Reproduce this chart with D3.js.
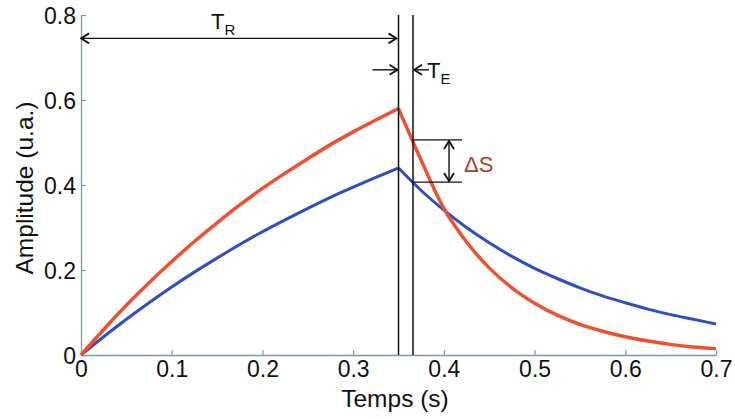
<!DOCTYPE html>
<html>
<head>
<meta charset="utf-8">
<script src="https://cdn.jsdelivr.net/npm/d3@7"></script>
<style>
  html, body { margin: 0; padding: 0; background: #fff; }
  svg { display: block; font-family: "Liberation Sans", Arial, sans-serif; }
</style>
</head>
<body>
<svg id="chart" width="735" height="419"></svg>
<script>
// ---- Data ----
const riseTime = [0, 0.025, 0.05, 0.075, 0.1, 0.125, 0.15, 0.175, 0.2, 0.225, 0.25, 0.275, 0.3, 0.325, 0.35];
const redRise  = [0, 0.060, 0.117, 0.170, 0.220, 0.267, 0.311, 0.353, 0.392, 0.428, 0.462, 0.495, 0.525, 0.553, 0.580];
const blueRise = [0, 0.043, 0.084, 0.123, 0.160, 0.195, 0.228, 0.260, 0.290, 0.318, 0.345, 0.371, 0.395, 0.418, 0.440];

const decayTime = [0.35, 0.375, 0.4, 0.425, 0.45, 0.475, 0.5, 0.525, 0.55, 0.575, 0.6, 0.625, 0.65, 0.675, 0.7];
const redDecay  = [0.580, 0.458, 0.345, 0.266, 0.205, 0.158, 0.122, 0.094, 0.072, 0.056, 0.043, 0.033, 0.025, 0.019, 0.015];
const blueDecay = [0.440, 0.387, 0.341, 0.300, 0.264, 0.232, 0.204, 0.180, 0.158, 0.139, 0.123, 0.108, 0.095, 0.084, 0.073];

const xTicks = [0, 0.1, 0.2, 0.3, 0.4, 0.5, 0.6, 0.7];
const yTicks = [0, 0.2, 0.4, 0.6, 0.8];

const tR = 0.35;            // end of repetition time
const tE = 0.366;           // end of echo time
const deltaSTop = 0.506;    // red signal at tE
const deltaSBottom = 0.407; // blue signal at tE
const trArrowY = 0.745;
const teArrowY = 0.671;

// ---- Layout ----
const svg = d3.select("#chart");
const x = d3.scaleLinear().domain([0, 0.7]).range([81, 716]);
const y = d3.scaleLinear().domain([0, 0.8]).range([355, 15]);

const axisColor = "#6c9fb5";
const red = "#ef5032";
const blue = "#2f4fbf";
const tickFs = 23;
const titleFs = 24.5;

// defs: chevron arrowheads
const defs = svg.append("defs");
function marker(id, orient) {
  defs.append("marker")
    .attr("id", id).attr("viewBox", "0 0 10 12")
    .attr("refX", 9).attr("refY", 6)
    .attr("markerWidth", 10).attr("markerHeight", 12)
    .attr("markerUnits", "userSpaceOnUse")
    .attr("orient", orient)
    .append("path").attr("d", "M1,1 L9,6 L1,11")
    .attr("fill", "none").attr("stroke", "#111").attr("stroke-width", 1.8);
}
marker("arrEnd", "auto");
marker("arrStart", "auto-start-reverse");

// ---- Axes ----
const xAxis = d3.axisBottom(x).tickValues(xTicks)
  .tickFormat(d => d === 0 ? "0" : d3.format(".1f")(d))
  .tickSizeInner(-5).tickSizeOuter(0).tickPadding(6);
const yAxis = d3.axisLeft(y).tickValues(yTicks)
  .tickFormat(d => d === 0 ? "0" : d3.format(".1f")(d))
  .tickSizeInner(-5).tickSizeOuter(0).tickPadding(5);

const gx = svg.append("g").attr("transform", `translate(0,${y(0)})`).call(xAxis);
const gy = svg.append("g").attr("transform", `translate(${x(0)},0)`).call(yAxis);
[gx, gy].forEach(g => {
  g.select(".domain").attr("stroke", axisColor).attr("stroke-width", 1.3);
  g.selectAll(".tick line").attr("stroke", axisColor).attr("stroke-width", 1.2);
  g.selectAll(".tick text").attr("fill", "#111").attr("font-size", tickFs)
    .attr("font-family", "Liberation Sans, Arial, sans-serif");
});
gy.selectAll(".tick text").attr("dy", "0.36em");

// axis titles
svg.append("text").attr("x", 395).attr("y", 407).attr("text-anchor", "middle")
  .attr("font-size", titleFs).attr("fill", "#111").text("Temps (s)");
svg.append("text").attr("transform", "translate(33,188) rotate(-90)")
  .attr("text-anchor", "middle").attr("font-size", titleFs).attr("fill", "#111")
  .text("Amplitude (u.a.)");

// ---- Curves ----
const line = d3.line().x(d => x(d[0])).y(d => y(d[1])).curve(d3.curveMonotoneX);
function seg(times, vals) { return times.map((t, i) => [t, vals[i]]); }

[[blueRise, blueDecay, blue, 3], [redRise, redDecay, red, 3.5]].forEach(([r, dcy, c, w]) => {
  svg.append("path").attr("d", line(seg(riseTime, r)))
    .attr("fill", "none").attr("stroke", c).attr("stroke-width", w).attr("stroke-linejoin", "round");
  svg.append("path").attr("d", line(seg(decayTime, dcy)))
    .attr("fill", "none").attr("stroke", c).attr("stroke-width", w).attr("stroke-linejoin", "round");
});

// ---- Annotations ----
const ink = "#111";
[tR, tE].forEach(t => {
  svg.append("line").attr("x1", x(t)).attr("x2", x(t)).attr("y1", y(0.8)).attr("y2", y(0))
    .attr("stroke", ink).attr("stroke-width", 1.5);
});

// TR double arrow
svg.append("line")
  .attr("x1", x(0)).attr("x2", x(tR) - 2)
  .attr("y1", y(trArrowY)).attr("y2", y(trArrowY))
  .attr("stroke", ink).attr("stroke-width", 1.4)
  .attr("marker-start", "url(#arrStart)").attr("marker-end", "url(#arrEnd)");
const trLabel = svg.append("text").attr("x", 211).attr("y", 29).attr("font-size", 22).attr("fill", ink);
trLabel.append("tspan").text("T");
trLabel.append("tspan").attr("font-size", 15).attr("dy", 6).text("R");

// TE arrows pointing inward
svg.append("line").attr("x1", x(tR) - 26).attr("x2", x(tR) - 1)
  .attr("y1", y(teArrowY)).attr("y2", y(teArrowY))
  .attr("stroke", ink).attr("stroke-width", 1.4).attr("marker-end", "url(#arrEnd)");
svg.append("line").attr("x1", x(tE) + 16).attr("x2", x(tE) + 1)
  .attr("y1", y(teArrowY)).attr("y2", y(teArrowY))
  .attr("stroke", ink).attr("stroke-width", 1.4).attr("marker-end", "url(#arrEnd)");
const teLabel = svg.append("text").attr("x", 427).attr("y", 78).attr("font-size", 22).attr("fill", ink);
teLabel.append("tspan").text("T");
teLabel.append("tspan").attr("font-size", 15).attr("dy", 6).text("E");

// ΔS marker
[deltaSTop, deltaSBottom].forEach(v => {
  svg.append("line").attr("x1", x(tE)).attr("x2", x(tE) + 49)
    .attr("y1", y(v)).attr("y2", y(v)).attr("stroke", ink).attr("stroke-width", 1.3);
});
svg.append("line").attr("x1", x(tE) + 36).attr("x2", x(tE) + 36)
  .attr("y1", y(deltaSTop) + 1).attr("y2", y(deltaSBottom) - 1)
  .attr("stroke", ink).attr("stroke-width", 1.4)
  .attr("marker-start", "url(#arrStart)").attr("marker-end", "url(#arrEnd)");
svg.append("text").attr("x", 464).attr("y", 172).attr("font-size", 22)
  .attr("fill", "#a3442e").text("ΔS");
</script>
</body>
</html>
